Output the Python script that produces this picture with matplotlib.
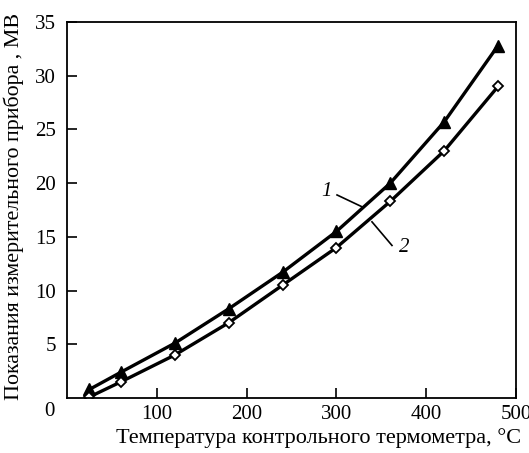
import numpy as np
import matplotlib.pyplot as plt

plt.rcParams['font.family'] = ['Liberation Serif', 'DejaVu Serif']

# temperature of the control thermometer, deg C
temp = [25, 60, 120, 180, 240, 300, 360, 420, 480]
# readings, mV
curve1 = [0.8, 2.4, 5.1, 8.3, 11.7, 15.5, 20.0, 25.7, 32.8]
curve2 = [0.1, 1.5, 4.0, 7.0, 10.5, 14.0, 18.3, 23.0, 29.0]

xticks = [100, 200, 300, 400, 500]
yticks = [5, 10, 15, 20, 25, 30, 35]

fig = plt.figure(figsize=(5.29, 4.53), dpi=100)
ax = fig.add_axes([67/529, 1-398/453, 449/529, 376/453])

ax.plot(temp, curve1, color='black', lw=2.4, marker='^', ms=8,
        mfc='black', mec='black')
ax.plot(temp, curve2, color='black', lw=2.4, marker='D', ms=5,
        mfc='white', mec='black', mew=1.3)

ax.set_xlim(0, 500)
ax.set_ylim(0, 35)
ax.set_xticks(xticks)
ax.set_yticks(yticks)
ax.tick_params(direction='in', length=7, width=1.2, labelsize=15)
ax.tick_params(axis='x', pad=5)
ax.tick_params(axis='y', pad=8)
for sp in ax.spines.values():
    sp.set_linewidth(1.3)

# shared zero at the corner
ax.text(-0.04, -0.035, '0', transform=ax.transAxes, fontsize=15,
        ha='center', va='center')

# curve labels with leaders
ax.plot([300.7, 328.5], [18.9, 17.8], color='black', lw=1.2)
ax.text(289, 19.2, '1', fontsize=15, style='italic', ha='center', va='center')
ax.plot([339.6, 361.9], [16.4, 14.2], color='black', lw=1.2)
ax.text(376, 14.0, '2', fontsize=15, style='italic', ha='center', va='center')

ax.set_xlabel('Температура контрольного термометра, °C', fontsize=16,
              labelpad=3, x=0.56)
ax.set_ylabel('Показания измерительного прибора , МВ', fontsize=15.8,
              labelpad=8, y=0.51)

fig.savefig('out.png', dpi=100)
